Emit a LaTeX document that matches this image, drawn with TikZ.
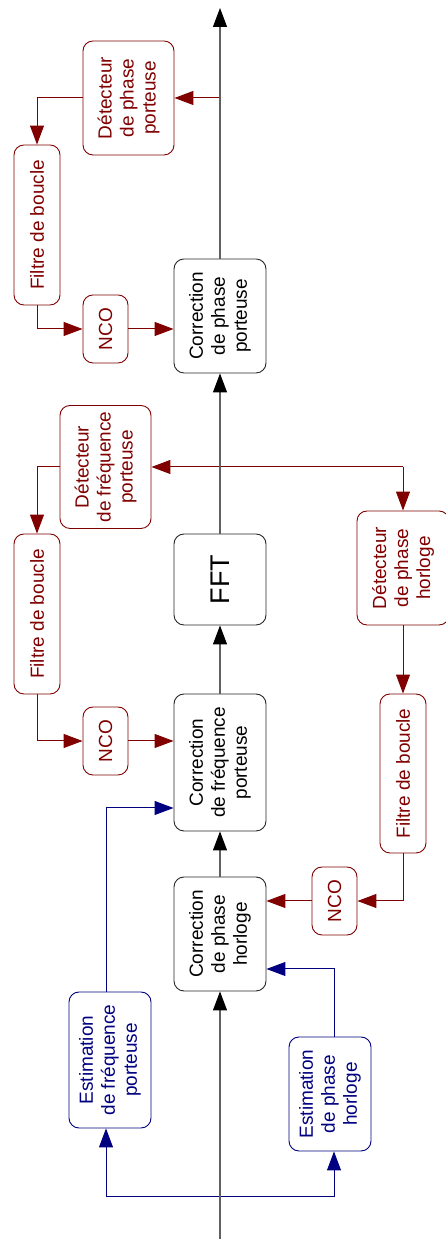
\documentclass[tikz,border=0pt]{standalone}
\usepackage{fontspec}
\setmainfont{Liberation Sans}
\usetikzlibrary{arrows.meta}
\definecolor{dred}{HTML}{800000}
\definecolor{dblue}{HTML}{000080}
\definecolor{axisgray}{HTML}{606060}
\tikzset{
  box/.style={draw, rounded corners=10pt, line width=0.9pt, inner sep=0pt},
  blackbox/.style={box, draw=black!85},
  redbox/.style={box, draw=dred},
  bluebox/.style={box, draw=dblue},
  txt/.style={rotate=90, align=center, font=\fontsize{19}{22}\selectfont},
  tip/.style={-{Triangle[length=19pt,width=14pt]}},
  axtip/.style={-{Triangle[length=19pt,width=14pt,color=black]}},
  ax/.style={draw=axisgray, line width=1.1pt},
  rl/.style={draw=dred, line width=1pt},
  bl/.style={draw=dblue, line width=1pt},
}
\begin{document}
\begin{tikzpicture}[x=1pt,y=1pt]
\useasboundingbox (0,0) rectangle (445,1239);
% main chain
\node[blackbox, minimum width=92pt, minimum height=114pt] (cph) at (220,305) {};
\node[txt] at (cph) {Correction\\de phase\\horloge};
\node[blackbox, minimum width=92pt, minimum height=137pt] (cfp) at (220,476.5) {};
\node[txt] at (cfp) {Correction\\de fréquence\\porteuse};
\node[blackbox, minimum width=92pt, minimum height=91pt] (fft) at (220,659.5) {};
\node[txt, font=\fontsize{27}{30}\selectfont] at (fft) {FFT};
\node[blackbox, minimum width=92pt, minimum height=114pt] (cpp) at (220,923) {};
\node[txt] at (cpp) {Correction\\de phase\\porteuse};
% red loop 1 (phase porteuse)
\node[redbox, minimum width=91pt, minimum height=114pt] (dpp) at (128.5,1141) {};
\node[txt, text=dred] at (dpp) {Détecteur\\de phase\\porteuse};
\node[redbox, minimum width=46pt, minimum height=160pt] (fb1) at (37,1014) {};
\node[txt, text=dred] at (fb1) {Filtre de boucle};
\node[redbox, minimum width=45pt, minimum height=68pt] (nco1) at (105.5,910) {};
\node[txt, text=dred] at (nco1) {NCO};
% red loop 2 (frequence porteuse)
\node[redbox, minimum width=91pt, minimum height=123pt] (dfp) at (105.5,772) {};
\node[txt, text=dred] at (dfp) {Détecteur\\de fréquence\\porteuse};
\node[redbox, minimum width=46pt, minimum height=160pt] (fb2) at (37,625) {};
\node[txt, text=dred] at (fb2) {Filtre de boucle};
\node[redbox, minimum width=45pt, minimum height=68pt] (nco2) at (105.5,498) {};
\node[txt, text=dred] at (nco2) {NCO};
% red loop 3 (phase horloge)
\node[redbox, minimum width=92pt, minimum height=114pt] (dph) at (403,671) {};
\node[txt, text=dred] at (dph) {Détecteur\\de phase\\horloge};
\node[redbox, minimum width=46pt, minimum height=159pt] (fb3) at (403,465.5) {};
\node[txt, text=dred] at (fb3) {Filtre de boucle};
\node[redbox, minimum width=45pt, minimum height=68pt] (nco3) at (334.5,338) {};
\node[txt, text=dred] at (nco3) {NCO};
% blue estimators
\node[bluebox, minimum width=82pt, minimum height=136pt] (efp) at (110,179) {};
\node[txt, text=dblue] at (efp) {Estimation\\de fréquence\\porteuse};
\node[bluebox, minimum width=82pt, minimum height=114pt] (eph) at (330,145) {};
\node[txt, text=dblue] at (eph) {Estimation\\de phase\\horloge};
% coordinates
\coordinate (in) at (220,0);
\coordinate (out) at (220,1231);
\coordinate (bl1) at (106,42);
\coordinate (bl2) at (334,42);
\coordinate (bt1) at (106,431);
\coordinate (bt2) at (334,270);
\coordinate (tap2) at (403,772);
% red connectors
\draw[rl, tip] (tap2) -- (dfp.east);
\draw[rl, tip] (tap2) -- (dph.north);
\draw[rl, tip] (dfp.west) -- (fb2.north |- dfp.west) -- (fb2.north);
\draw[rl, tip] (fb2.south) -- (fb2.south |- nco2.west) -- (nco2.west);
\draw[rl, tip] (nco2.east) -- (nco2.east -| cfp.west);
\draw[rl, tip] (out |- dpp.east) -- (dpp.east);
\draw[rl, tip] (dpp.west) -- (fb1.north |- dpp.west) -- (fb1.north);
\draw[rl, tip] (fb1.south) -- (fb1.south |- nco1.west) -- (nco1.west);
\draw[rl, tip] (nco1.east) -- (nco1.east -| cpp.west);
\draw[rl, tip] (dph.south) -- (fb3.north);
\draw[rl, tip] (fb3.south) -- (fb3.south |- nco3.east) -- (nco3.east);
\draw[rl, tip] (nco3.west) -- (nco3.west -| cph.east);
% blue connectors
\draw[bl] (bl1) -- (bl2);
\draw[bl, tip] (bl1) -- (bl1 |- efp.south);
\draw[bl, tip] (bl2) -- (bl2 |- eph.south);
\draw[bl, tip] (bl1 |- efp.north) -- (bt1) -- (bt1 -| cfp.west);
\draw[bl, tip] (bl2 |- eph.north) -- (bt2) -- (bt2 -| cph.east);
% main axis
\draw[ax, axtip] (in) -- (cph.south);
\draw[ax, axtip] (cph.north) -- (cfp.south);
\draw[ax, axtip] (cfp.north) -- (fft.south);
\draw[ax, axtip] (fft.north) -- (cpp.south);
\draw[ax, axtip] (cpp.north) -- (out);
\end{tikzpicture}
\end{document}
